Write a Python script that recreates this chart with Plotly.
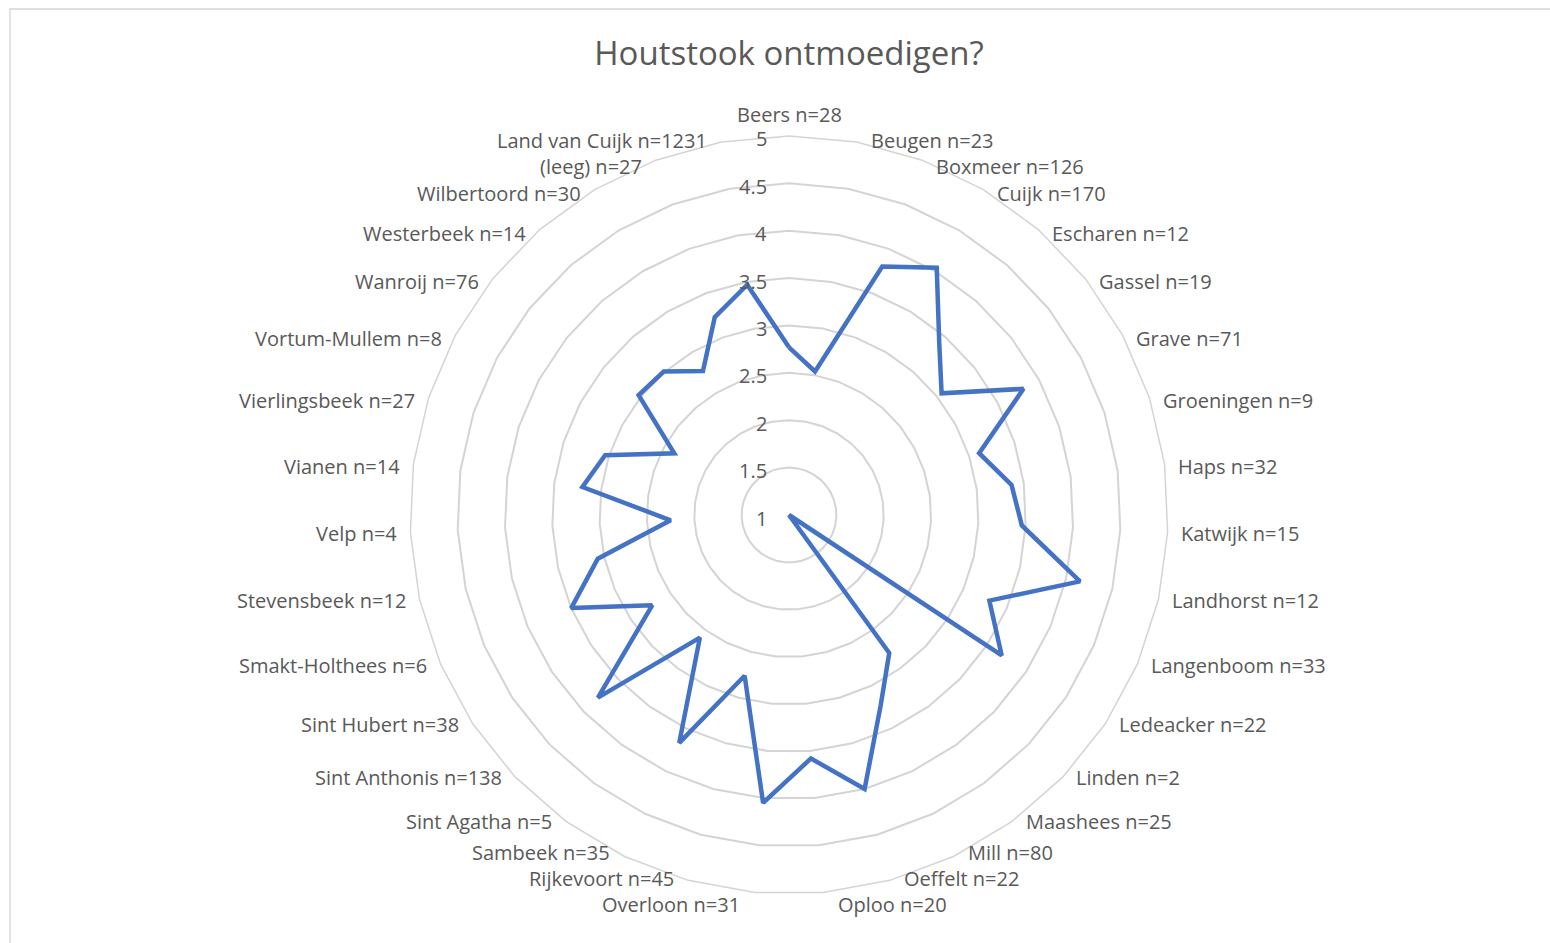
import math
import plotly.graph_objects as go

# Villages (kern) with number of respondents, and mean score on "Houtstook ontmoedigen?"
kernen = [
    "Beers n=28", "Beugen n=23", "Boxmeer n=126", "Cuijk n=170", "Escharen n=12",
    "Gassel n=19", "Grave n=71", "Groeningen n=9", "Haps n=32", "Katwijk n=15",
    "Landhorst n=12", "Langenboom n=33", "Ledeacker n=22", "Linden n=2", "Maashees n=25",
    "Mill n=80", "Oeffelt n=22", "Oploo n=20", "Overloon n=31", "Rijkevoort n=45",
    "Sambeek n=35", "Sint Agatha n=5", "Sint Anthonis n=138", "Sint Hubert n=38",
    "Smakt-Holthees n=6", "Stevensbeek n=12", "Velp n=4", "Vianen n=14",
    "Vierlingsbeek n=27", "Vortum-Mullem n=8", "Wanroij n=76", "Westerbeek n=14",
    "Wilbertoord n=30", "(leeg) n=27", "Land van Cuijk n=1231",
]
gemiddelde = [
    2.77, 2.54, 3.80, 4.04, 3.41,
    3.06, 3.81, 3.11, 3.37, 3.46,
    4.15, 3.30, 3.69, 1.00, 2.80,
    3.23, 4.00, 3.58, 4.05, 2.76,
    3.67, 2.60, 3.79, 2.73,
    3.50, 3.07, 2.25, 3.20,
    3.04, 2.375, 3.03, 3.01,
    2.77, 3.23, 3.47,
]
radial_ticks = [1, 1.5, 2, 2.5, 3, 3.5, 4, 4.5, 5]
R_MIN, R_MAX = 1, 5

W, H = 1550, 943
CX, CY, R = 789, 515, 379  # centre and outer radius in pixels

TEXT = "#595959"
GRID = "#D4D4D4"
FONT = "Open Sans"

fig = go.Figure()
fig.add_trace(go.Scatterpolar(
    r=gemiddelde + gemiddelde[:1],
    theta=kernen + kernen[:1],
    mode="lines",
    line=dict(color="#4472C4", width=4.5),
    hoverinfo="theta+r",
    showlegend=False,
))

# Category labels sit beside the outer ring: vertically centred on the ring
# point, offset sideways so the text edge faces the chart.
label_nudge = {  # small vertical shifts (px) to keep crowded labels apart
    "Beugen n=23": -6, "Boxmeer n=126": 2,
    "Land van Cuijk n=1231": -6, "(leeg) n=27": 2,
    "Mill n=80": -4, "Oeffelt n=22": -2, "Oploo n=20": 12,
    "Sambeek n=35": -4, "Rijkevoort n=45": -2, "Overloon n=31": 12,
}
annotations = []
n = len(kernen)
for i, name in enumerate(kernen):
    a = 2 * math.pi * i / n
    px = CX + 377 * math.sin(a)
    py = CY + 2 - 377 * math.cos(a) + label_nudge.get(name, 0)
    if abs(math.sin(a)) < 1e-6:
        xa, py = "center", py - 26
    elif math.sin(a) > 0:
        xa, px = "left", px + 13
    else:
        xa, px = "right", px - 13
    annotations.append(dict(
        text=name, x=px / W, y=1 - py / H, xref="paper", yref="paper",
        xanchor=xa, yanchor="middle", showarrow=False,
        font=dict(family=FONT, size=20, color=TEXT),
    ))

# Value labels of the radial scale, right-aligned just left of the vertical axis
for v in radial_ticks:
    py = CY - (v - R_MIN) / (R_MAX - R_MIN) * R + 3
    annotations.append(dict(
        text=f"{v:g}", x=769 / W, y=1 - py / H, xref="paper", yref="paper",
        xanchor="right", yanchor="middle", showarrow=False,
        font=dict(family=FONT, size=20, color=TEXT),
    ))

fig.update_layout(
    width=W, height=H,
    margin=dict(l=0, r=0, t=0, b=0),
    paper_bgcolor="white",
    font=dict(family=FONT, color=TEXT, size=20),
    title=dict(
        text="Houtstook ontmoedigen?",
        font=dict(family=FONT, size=33, color=TEXT),
        x=CX / W, xanchor="center",
        y=1 - 53 / H, yanchor="middle",
        yref="container", xref="container",
    ),
    polar=dict(
        domain=dict(
            x=[(CX - R) / W, (CX + R) / W],
            y=[(H - CY - R) / H, (H - CY + R) / H],
        ),
        bgcolor="white",
        gridshape="linear",
        angularaxis=dict(
            direction="clockwise",
            rotation=90,
            showgrid=False,
            showline=True,
            linecolor=GRID,
            linewidth=1.5,
            showticklabels=False,
            ticks="",
        ),
        radialaxis=dict(
            range=[R_MIN, R_MAX],
            tickvals=radial_ticks,
            angle=90,
            showticklabels=False,
            showline=False,
            ticks="",
            gridcolor=GRID,
            gridwidth=1.5,
        ),
    ),
    annotations=annotations,
    shapes=[dict(
        type="rect", xref="paper", yref="paper",
        x0=10 / W, x1=1560 / W, y0=1 - 950 / H, y1=1 - 9 / H,
        line=dict(color=GRID, width=1.3), fillcolor="rgba(0,0,0,0)", layer="below",
    )],
)

fig.write_html("out.html")
